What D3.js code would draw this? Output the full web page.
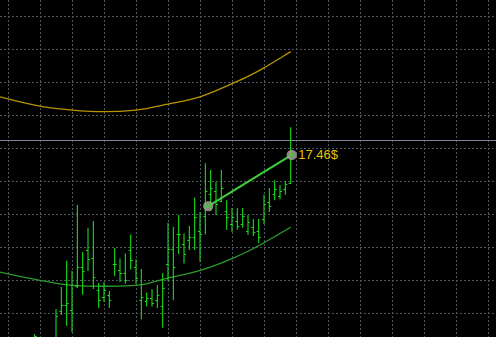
<!DOCTYPE html>
<html>
<head>
<meta charset="utf-8">
<script src="https://cdn.jsdelivr.net/npm/d3@7"></script>
<style>
  html, body { margin: 0; padding: 0; background: #000; }
  svg { display: block; }
</style>
</head>
<body>
<div id="chart"></div>
<script>
// ---- data (bar index, price units) ----
const barIndex = d3.range(0, 49);
const highs = [9.36, 9.20, 9.23, 9.18, 10.12, 10.79, 11.58, 11.27, 13.27, 11.85,
               12.58, 12.79, 10.91, 10.94, 10.67, 11.97, 11.65, 11.80, 12.38, 11.62,
               11.33, 10.62, 10.73, 10.85, 11.21, 12.73, 12.61, 12.97, 12.41, 12.64,
               13.50, 13.06, 14.54, 14.33, 13.98, 14.33, 13.42, 13.18, 13.18, 13.18,
               12.97, 12.85, 12.85, 13.58, 13.79, 14.02, 13.88, 14.00, 15.63];
const lows  = [9.03, 8.90, 8.95, 8.85, 9.00, 9.94, 9.61, 9.42, 10.76, 10.55,
               11.27, 10.73, 10.15, 10.33, 10.15, 11.12, 10.94, 10.89, 11.32, 10.88,
               9.80, 10.20, 10.20, 10.15, 9.55, 10.97, 10.39, 11.79, 11.50, 11.91,
               11.91, 11.55, 12.38, 13.09, 12.97, 13.36, 12.52, 12.45, 12.52, 12.58,
               12.36, 12.33, 12.12, 12.70, 13.06, 13.42, 13.45, 13.58, 13.91];
const opens = [9.10, 9.05, 9.10, 9.00, 9.20, 10.05, 10.25, 10.10, 10.83, 11.40,
               11.90, 11.66, 10.70, 10.50, 10.55, 11.50, 11.30, 11.20, 11.90, 11.40,
               10.40, 10.35, 10.45, 10.40, 10.20, 11.50, 11.95, 12.40, 12.10, 12.20,
               12.30, 12.50, 12.95, 13.60, 13.70, 13.40, 13.10, 12.70, 12.80, 12.70,
               12.50, 12.60, 12.50, 12.85, 13.35, 13.60, 13.55, 13.75, 13.95];
const closes = [9.30, 9.10, 9.00, 9.10, 9.90, 10.25, 10.30, 10.00, 11.40, 11.27,
               11.65, 11.10, 10.40, 10.70, 10.40, 11.50, 11.20, 11.00, 11.60, 11.05,
               10.50, 10.45, 10.30, 10.55, 10.75, 11.95, 11.40, 12.40, 11.80, 12.30,
               12.90, 12.40, 13.70, 13.80, 13.30, 13.80, 12.90, 12.90, 12.65, 12.95,
               12.75, 12.45, 12.30, 13.30, 13.25, 13.75, 13.70, 13.90, 14.90];

// channel curves (upper / lower), sampled at bar indices
const channelIndex = [-6.5, 1, 7, 13, 19, 25, 31, 37, 40, 43, 46, 48];
const channelUpper = [16.55, 16.27, 16.15, 16.10, 16.15, 16.33, 16.55, 16.95, 17.17, 17.43, 17.72, 17.92];
const channelLower = [11.24, 10.99, 10.84, 10.81, 10.84, 11.06, 11.29, 11.65, 11.87, 12.13, 12.41, 12.60];

// horizontal price line
const priceLine = 15.23;

// trade line: entry -> exit
const tradeIndex = [32.55, 48.2];
const tradePrice = [13.24, 14.79];
const tradeLabel = "17.46$";

// grid
const gridBars = d3.range(-5, 86, 6);
const gridPrices = d3.range(10, 20, 1);

// ---- drawing ----
const W = 496, H = 337;
const svg = d3.select("#chart").append("svg").attr("width", W).attr("height", H);
svg.append("rect").attr("width", W).attr("height", H).attr("fill", "#000");

const x = d3.scaleLinear().domain([-5, 85]).range([8, 488]);
const y = d3.scaleLinear().domain([10, 19]).range([313, 16]);

const grid = svg.append("g").attr("stroke", "#50565f").attr("stroke-width", 1)
  .attr("stroke-dasharray", "2,2");
grid.selectAll("line.v").data(gridBars).join("line").attr("class", "v")
  .attr("x1", d => Math.round(x(d)) + 0.5).attr("x2", d => Math.round(x(d)) + 0.5)
  .attr("y1", 0).attr("y2", H);
grid.selectAll("line.h").data(gridPrices).join("line").attr("class", "h")
  .attr("y1", d => Math.round(y(d)) + 0.5).attr("y2", d => Math.round(y(d)) + 0.5)
  .attr("x1", 0).attr("x2", W);

// price line
svg.append("line")
  .attr("x1", 0).attr("x2", W)
  .attr("y1", Math.round(y(priceLine)) + 0.5).attr("y2", Math.round(y(priceLine)) + 0.5)
  .attr("stroke", "#7d8595").attr("stroke-width", 1);

// channel curves
const line = d3.line().x(d => x(d[0])).y(d => y(d[1])).curve(d3.curveMonotoneX);
svg.append("path").datum(channelIndex.map((d, i) => [d, channelUpper[i]]))
  .attr("d", line).attr("fill", "none").attr("stroke", "#b89400").attr("stroke-width", 1.3);
svg.append("path").datum(channelIndex.map((d, i) => [d, channelLower[i]]))
  .attr("d", line).attr("fill", "none").attr("stroke", "#2c9a2c").attr("stroke-width", 1.3);

// bars
const bars = svg.append("g").attr("stroke", "#18dc18").attr("stroke-width", 1.1);
const bg = bars.selectAll("g").data(barIndex).join("g");
bg.append("line")
  .attr("x1", i => x(i)).attr("x2", i => x(i))
  .attr("y1", i => y(highs[i])).attr("y2", i => y(lows[i]));
bg.append("line")
  .attr("x1", i => x(i) - 2).attr("x2", i => x(i))
  .attr("y1", i => Math.round(y(opens[i])) + 0.5).attr("y2", i => Math.round(y(opens[i])) + 0.5);
bg.append("line")
  .attr("x1", i => x(i)).attr("x2", i => x(i) + 2)
  .attr("y1", i => Math.round(y(closes[i])) + 0.5).attr("y2", i => Math.round(y(closes[i])) + 0.5);

// trade line
svg.append("line")
  .attr("x1", x(tradeIndex[0])).attr("y1", y(tradePrice[0]))
  .attr("x2", x(tradeIndex[1])).attr("y2", y(tradePrice[1]))
  .attr("stroke", "#3ccf3c").attr("stroke-width", 2);

const marks = svg.selectAll("g.mark").data([0, 1]).join("g").attr("class", "mark")
  .attr("transform", i => `translate(${x(tradeIndex[i])},${y(tradePrice[i])})`);
marks.append("circle").attr("r", 5.2).attr("fill", "#a69e92").attr("fill-opacity", 0.85);
marks.append("path").attr("d", "M-2,2 L2,-2 M2,-2 L2,2 M-2,-2 L-2,2")
  .attr("stroke", "#3ccf3c").attr("stroke-width", 1.2).attr("fill", "none");

svg.append("text")
  .attr("x", x(tradeIndex[1]) + 6.5).attr("y", y(tradePrice[1]) + 4.5)
  .attr("fill", "#e6c000")
  .attr("font-family", "Liberation Sans, Arial, sans-serif")
  .attr("font-size", "13px")
  .text(tradeLabel);
</script>
</body>
</html>
